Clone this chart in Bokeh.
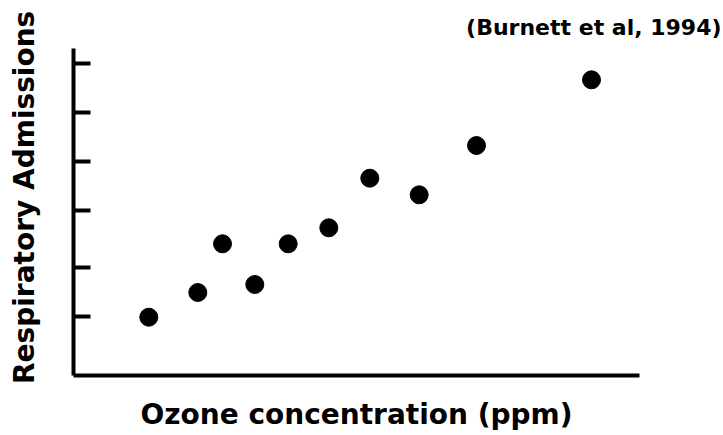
from bokeh.plotting import figure
from bokeh.models import Range1d, FixedTicker, Title
from bokeh.embed import file_html
from bokeh.resources import INLINE

# Data (arbitrary units: ozone level, admissions index)
ozone = [7.53, 12.43, 14.9, 18.13, 21.47, 25.53, 29.63, 34.57, 40.3, 51.8]
admissions = [5.83, 8.3, 13.17, 9.1, 13.17, 14.77, 19.73, 18.07, 23.0, 29.57]
y_ticks = [5.9, 10.77, 16.5, 21.43, 26.33, 31.23]

title_text = "(Burnett et al, 1994)"
x_label = "Ozone concentration (ppm)"
y_label = "Respiratory Admissions"

FONT = "DejaVu Sans"

p = figure(
    width=723, height=435,
    x_range=Range1d(0, 56.6), y_range=Range1d(0, 32.7),
    output_backend="svg", toolbar_location=None,
    min_border_left=73, min_border_right=84,
    min_border_top=48, min_border_bottom=60,
)
p.outline_line_color = None
p.xgrid.visible = False
p.ygrid.visible = False
p.background_fill_color = "white"
p.border_fill_color = "white"

for ax in (p.xaxis[0], p.yaxis[0]):
    ax.axis_line_width = 4
    ax.axis_line_color = "black"
    ax.major_tick_line_width = 4
    ax.major_tick_line_color = "black"
    ax.major_tick_out = 0
    ax.major_tick_in = 17
    ax.minor_tick_line_color = None
    ax.major_label_text_font_size = "0px"
    ax.major_label_standoff = 0
    ax.axis_label_text_font = FONT
    ax.axis_label_text_font_style = "bold"
    ax.axis_label_text_color = "black"

p.xaxis[0].ticker = FixedTicker(ticks=[])
p.yaxis[0].ticker = FixedTicker(ticks=y_ticks)

p.xaxis[0].axis_label = x_label
p.xaxis[0].axis_label_text_font_size = "28px"
p.xaxis[0].axis_label_standoff = 22

p.yaxis[0].axis_label = "\u00a0\u00a0\u00a0" + y_label
p.yaxis[0].axis_label_text_font_size = "28px"
p.yaxis[0].axis_label_standoff = 33

p.scatter(ozone, admissions, size=18, color="black", marker="circle")

p.add_layout(Title(text=title_text, align="right", text_font=FONT,
                   text_font_style="bold", text_font_size="22px",
                   text_color="black", offset=-82, standoff=18), "above")

open("out.html", "w").write(file_html(p, INLINE))
